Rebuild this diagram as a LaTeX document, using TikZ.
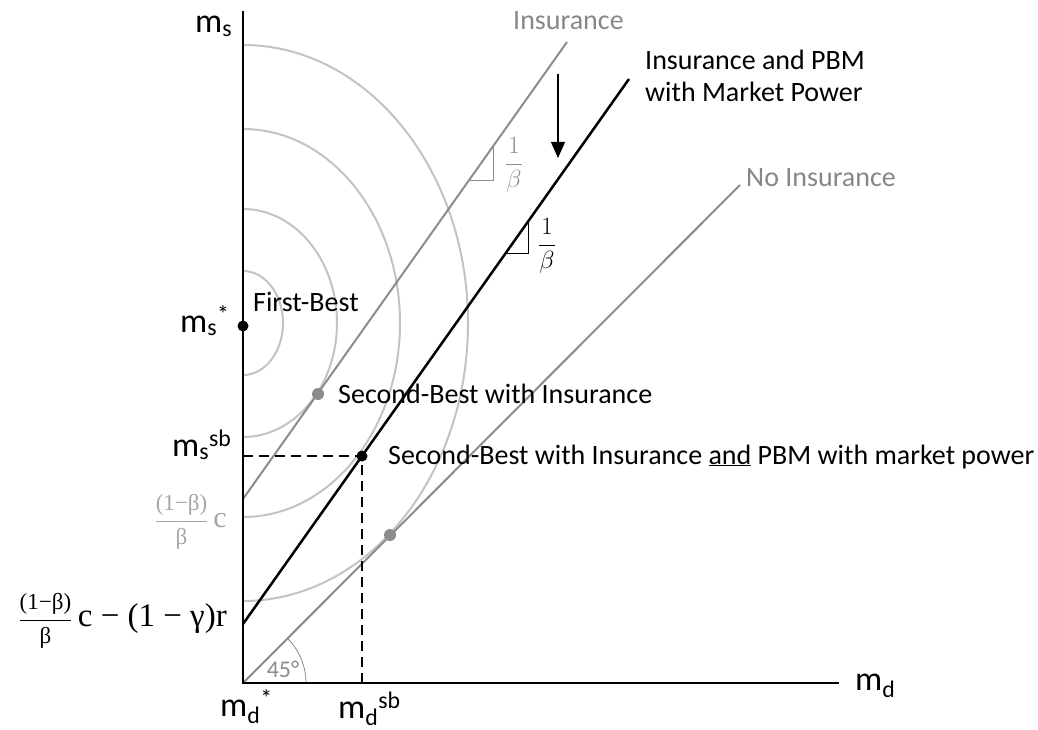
\documentclass[tikz,border=0pt]{standalone}
\usepackage{fontspec}
\setmainfont{Carlito}
\newfontfamily\cambria{Liberation Serif}
\usetikzlibrary{arrows.meta}
\definecolor{lgray}{RGB}{195,195,195}
\definecolor{mgray}{RGB}{140,140,140}
\definecolor{tgray}{RGB}{135,135,135}
\definecolor{fgray}{RGB}{165,165,165}
\newcommand{\numfont}{\cambria\fontsize{23}{27}\selectfont}
\begin{document}
\begin{tikzpicture}[x=1pt,y=-1pt,
  axis/.style={line width=2.5pt, line cap=rect},
  curve/.style={line width=2pt, lgray},
  glin/.style={line width=2pt, mgray},
  blin/.style={line width=2.5pt, black},
  guide/.style={line width=2pt, dash pattern=on 10pt off 6pt},
  dotb/.style={circle, fill=black, inner sep=0pt, minimum size=11pt},
  dotg/.style={circle, fill=mgray, inner sep=0pt, minimum size=12pt},
  lbl/.style={inner sep=0pt, font=\fontsize{28}{33}\selectfont},
  axl/.style={inner sep=0pt, font=\fontsize{34}{40}\selectfont},
  tri/.style={line width=1pt},
  slope/.style={inner sep=0pt, font=\fontsize{27}{32}\selectfont},
]
\useasboundingbox (0,0) rectangle (1038,730);

% indifference curves
\foreach \rx/\ry in {40/52,94/114,157/194,225/278}
  \draw[curve] (243,{323-\ry}) arc[start angle=-90,end angle=90,x radius=\rx,y radius=\ry];

% key points
\coordinate (O) at (243,683);
\coordinate (Ytop) at (243,12);
\coordinate (Xend) at (838,683);
\coordinate (I0) at (243,499);
\coordinate (I1) at (567,42);
\coordinate (P0) at (243,624);
\coordinate (P1) at (629,79);
\coordinate (N1) at (740,185);
\coordinate (Ysb) at (243,456);
\coordinate (Xsb) at (362,683);
\coordinate (A0) at (558,74);
\coordinate (A1) at (558,158);

% 45 degree arc
\draw[line width=0.8pt, mgray] (306,683) arc[start angle=0,end angle=-45,radius=63];
\node[inner sep=0pt, font=\fontsize{24}{28}\selectfont, text=mgray] (deg) at (283,669) {45°};

% lines
\draw[glin] (I0) -- (I1);
\draw[glin] (O) -- (N1);
\draw[blin] (P0) -- (P1);

% slope triangles
\draw[tri, mgray] (470,181) -| (493,147);
\draw[tri] (507,253) -| (528,223);
\node[slope, text=mgray] (s1) at (514,165) {$\displaystyle\frac{1}{\beta}$};
\node[slope] (s2) at (547,246) {$\displaystyle\frac{1}{\beta}$};

% arrow
\draw[line width=1.2pt, -{Triangle[width=14pt,length=16pt]}] (A0) -- (A1);

% dots
\node[dotb] (FB) at (243,326) {};
\node[dotg] (SBI) at (318,394) {};
\node[dotb] (SB) at (362,456) {};
\node[dotg] (NI) at (390,535) {};

% dashed guides
\draw[guide] (Ysb) -- (SB.center) -- (Xsb);

% axes
\draw[axis] (Ytop) -- (O) -- (Xend);

% text labels
\node[lbl, text=tgray, anchor=base west] (tI) at (513,30) {Insurance};
\node[lbl, anchor=base west] (tP1) at (645,70) {Insurance and PBM};
\node[lbl, anchor=base west] (tP2) at (645,102) {with Market Power};
\node[lbl, text=tgray, anchor=base west] (tN) at (746,186) {No Insurance};
\node[lbl, anchor=base west] (tFB) at (253,311) {First-Best};
\node[lbl, anchor=base west] (tSBI) at (338,403) {Second-Best with Insurance};
\node[lbl, anchor=base west] (tSB) at (388,464) {Second-Best with Insurance \underline{and} PBM with market power};

% axis labels
\node[axl, anchor=base west] (lms) at (195,33) {m\textsubscript{s}};
\node[axl, anchor=base west] (lmsstar) at (180,332) {m\textsubscript{s}\textsuperscript{*}};
\node[axl, anchor=base west] (lmssb) at (172,456) {m\textsubscript{s}\textsuperscript{sb}};
\node[axl, anchor=base west] (lmd) at (855,690) {m\textsubscript{d}};
\node[axl, anchor=base west] (lmdstar) at (220,716) {m\textsubscript{d}\textsuperscript{*}};
\node[axl, anchor=base west] (lmdsb) at (338,718) {m\textsubscript{d}\textsuperscript{sb}};

% intercept labels
\node[inner sep=0pt, text=fgray, anchor=base east, font=\fontsize{30}{36}\selectfont] (lc) at (227,527)
  {$\displaystyle\frac{\mbox{\numfont(1−β)}}{\mbox{\numfont β}}$\,{\cambria c}};
\node[inner sep=0pt, anchor=base east, font=\fontsize{33}{39}\selectfont] (lcr) at (227,626)
  {$\displaystyle\frac{\mbox{\numfont(1−β)}}{\mbox{\numfont β}}$\,{\cambria c − (1 − γ)r}};
\end{tikzpicture}
\end{document}
